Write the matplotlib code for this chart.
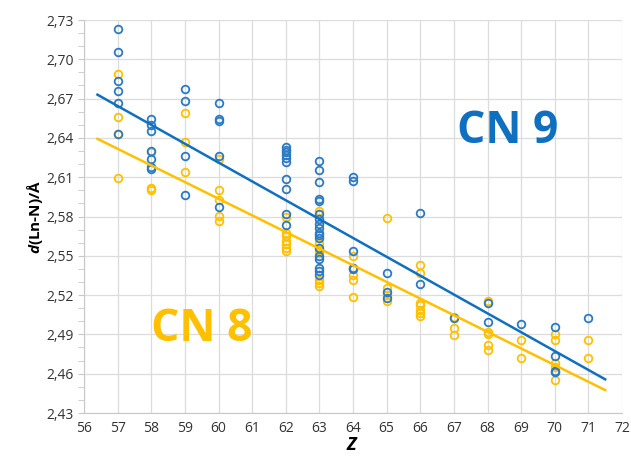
import numpy as np
import matplotlib
matplotlib.use('Agg')
import matplotlib.pyplot as plt
from matplotlib.ticker import FuncFormatter, MultipleLocator

plt.rcParams['font.family'] = ['Open Sans', 'DejaVu Sans']
plt.rcParams['mathtext.fontset'] = 'custom'
plt.rcParams['mathtext.bfit'] = 'Open Sans:italic:bold'
plt.rcParams['mathtext.it'] = 'Open Sans:italic'

# CN 9 (blue) - d(Ln-N) per Z
cn9 = {
    57: [2.7229, 2.7052, 2.6835, 2.676, 2.6669, 2.6431],
    58: [2.6546, 2.6495, 2.6449, 2.630, 2.6239, 2.6175, 2.6163],
    59: [2.6776, 2.6679, 2.6265, 2.5966],
    60: [2.6669, 2.6541, 2.6529, 2.6265, 2.5876],
    62: [2.6328, 2.6308, 2.629, 2.627, 2.6247, 2.6219, 2.609, 2.6009, 2.5822, 2.5733],
    63: [2.6226, 2.6155, 2.6065, 2.5932, 2.592, 2.5817, 2.5779, 2.5741, 2.5715,
         2.5676, 2.5659, 2.5638, 2.5561, 2.5498, 2.5472, 2.5408, 2.5383, 2.5357],
    64: [2.6098, 2.6073, 2.5536, 2.5408, 2.5396],
    65: [2.5369, 2.5223, 2.5178],
    66: [2.583, 2.5285],
    67: [2.5025],
    68: [2.5137, 2.4994],
    69: [2.4981],
    70: [2.4953, 2.4738, 2.4623, 2.461],
    71: [2.5025],
}

# CN 8 (yellow)
cn8 = {
    57: [2.6891, 2.6558, 2.6431, 2.6096],
    58: [2.629, 2.6017, 2.6004],
    59: [2.6589, 2.6372, 2.6137],
    60: [2.6239, 2.6001, 2.5925, 2.5804, 2.5766],
    62: [2.5797, 2.5676, 2.5651, 2.5613, 2.5587, 2.5561, 2.5536],
    63: [2.5843, 2.5600, 2.5541, 2.5520, 2.5319, 2.5293, 2.5267],
    64: [2.5498, 2.5408, 2.5357, 2.5319, 2.5186],
    65: [2.5787, 2.5254, 2.5203, 2.5158],
    66: [2.5433, 2.537, 2.5139, 2.5127, 2.5089, 2.5063, 2.5043],
    67: [2.5035, 2.4948, 2.4892],
    68: [2.5158, 2.4915, 2.4902, 2.482, 2.4782],
    69: [2.4856, 2.4722],
    70: [2.4902, 2.4858, 2.4679, 2.4654, 2.4552],
    71: [2.4858, 2.4722],
}

# trend lines (end points)
fit_z = [56.4, 71.5]
fit9 = [2.673, 2.4557]
fit8 = [2.6393, 2.4475]

blue = '#2a7bc4'
blue_line = '#1070c0'
yellow = '#ffc000'

def flat(d):
    zs, vs = [], []
    for z, vals in d.items():
        zs += [z] * len(vals)
        vs += vals
    return zs, vs

fig = plt.figure(figsize=(6.31, 4.61), dpi=100)
ax = fig.add_axes([84 / 631, 1 - 413 / 461, (622 - 84) / 631, (413 - 20) / 461])

z8, v8 = flat(cn8)
z9, v9 = flat(cn9)
ax.plot(z8, v8, 'o', mfc='none', mec=yellow, ms=5.5, mew=1.3, zorder=3)
ax.plot(z9, v9, 'o', mfc='none', mec=blue, ms=5.5, mew=1.3, zorder=3)
ax.plot(fit_z, fit9, color=blue_line, lw=1.8, zorder=4)
ax.plot(fit_z, fit8, color=yellow, lw=1.8, zorder=4)

ax.set_xlim(56, 72)
ax.set_ylim(2.43, 2.73)
ax.set_xticks(range(56, 73))
ax.set_yticks(np.arange(2.43, 2.7301, 0.03))
ax.yaxis.set_minor_locator(MultipleLocator(0.01))
ax.yaxis.set_major_formatter(FuncFormatter(lambda v, p: ('%.2f' % v).replace('.', ',')))
ax.grid(True, which='major', color='#dcdcdc', lw=0.9)
ax.set_axisbelow(True)
for s in ['top', 'right']:
    ax.spines[s].set_visible(False)
for s in ['left', 'bottom']:
    ax.spines[s].set_color('#c8c8c8')
ax.tick_params(axis='y', which='both', colors='#c8c8c8', labelcolor='#333333',
               labelsize=10, length=4)
ax.tick_params(axis='x', length=0, labelcolor='#333333', labelsize=10, pad=6)

ax.set_xlabel(r'$\mathbfit{Z}$', fontsize=13, labelpad=0)
ax.set_ylabel(r'$\mathbfit{d}$(Ln-N)/Å', fontsize=11, fontweight='bold', labelpad=1)

ax.text(68.6, 2.645, 'CN 9', color=blue_line, fontsize=32, fontweight='bold',
        ha='center', va='center')
ax.text(59.5, 2.494, 'CN 8', color=yellow, fontsize=32, fontweight='bold',
        ha='center', va='center')

fig.savefig('out.png', dpi=100)
